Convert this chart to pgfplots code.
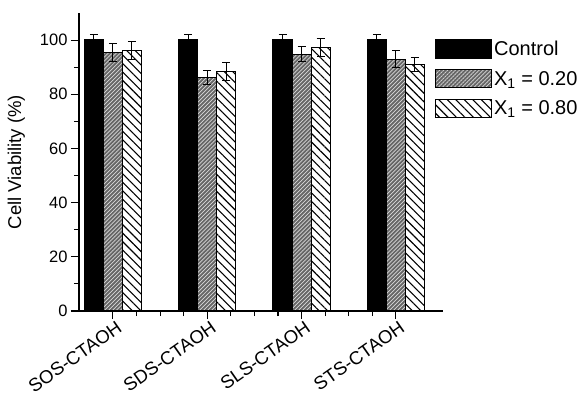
\documentclass[border=0pt]{standalone}
\usepackage{fontspec}
\setmainfont{Liberation Sans}
\usepackage{pgfplots}
\pgfplotsset{compat=1.18}
\usetikzlibrary{patterns.meta}
\pgfplotsset{bigbox legend/.style={legend image code/.code={\draw[##1] (0pt,-9pt) rectangle (56pt,9pt);}}}
\begin{document}
\begin{tikzpicture}
\path[use as bounding box] (0,0) rectangle (586pt,-399pt);
\begin{axis}[
  at={(79pt,-311pt)}, anchor=south west,
  width=364pt, height=298pt, scale only axis,
  ybar=0pt, bar width=19pt,
  xmin=0.64, xmax=4.5, ymin=0, ymax=110,
  axis x line*=bottom, axis y line*=left,
  axis line style={line width=1.2pt},
  axis on top,
  xtick={1,2,3,4}, xticklabels={SOS-CTAOH,SDS-CTAOH,SLS-CTAOH,STS-CTAOH},
  minor x tick num=3,
  ytick={0,20,...,100}, minor y tick num=1,
  xtick pos=bottom, ytick pos=left,
  xtick align=outside, ytick align=outside,
  major tick length=8pt, minor tick length=5pt,
  every tick/.style={line width=1.1pt, black},
  /pgf/number format/assume math mode=true,
  yticklabel style={font=\fontsize{16.5}{18}\selectfont},
  xticklabel style={font=\fontsize{18.5}{20}\selectfont, rotate=35, anchor=north east, xshift=5pt, yshift=1pt},
  ylabel={Cell Viability (\%)},
  ylabel style={font=\fontsize{18.5}{20}\selectfont, yshift=8pt},
  legend style={at={(0.969,0.92)}, anchor=north west, draw=none, fill=none,
    font=\fontsize{20}{22}\selectfont, row sep=10pt},
  legend cell align=left,
  clip=false,
]
\addplot[fill=black, draw=black, line width=1.2pt, bigbox legend,
  error bars/.cd, y dir=both, y explicit,
  error bar style={line width=1pt, black},
  error mark options={rotate=90, mark size=4pt, line width=1pt, black}]
  coordinates {(1,100) +- (0,2) (2,100) +- (0,2) (3,100) +- (0,2) (4,100) +- (0,2)};
\addlegendentry{Control}
\addplot[fill=black!60, draw=black, line width=1pt, bigbox legend,
  postaction={pattern={Lines[angle=45,distance=2.8pt,line width=0.7pt]}, pattern color=white!85!black},
  error bars/.cd, y dir=both, y explicit,
  error bar style={line width=1pt, black},
  error mark options={rotate=90, mark size=4pt, line width=1pt, black}]
  coordinates {(1,95.4) +- (0,3.2) (2,86.2) +- (0,2.7) (3,94.8) +- (0,2.7) (4,93.0) +- (0,3.2)};
\addlegendentry{X\textsubscript{1} = 0.20}
\addplot[fill=white, draw=black, line width=1pt, bigbox legend,
  postaction={pattern={Lines[angle=-45,distance=6pt,line width=1.1pt]}, pattern color=black},
  error bars/.cd, y dir=both, y explicit,
  error bar style={line width=1pt, black},
  error mark options={rotate=90, mark size=4pt, line width=1pt, black}]
  coordinates {(1,96.3) +- (0,3.3) (2,88.4) +- (0,3.2) (3,97.3) +- (0,3.3) (4,91.0) +- (0,2.6)};
\addlegendentry{X\textsubscript{1} = 0.80}
\end{axis}
\end{tikzpicture}
\end{document}
